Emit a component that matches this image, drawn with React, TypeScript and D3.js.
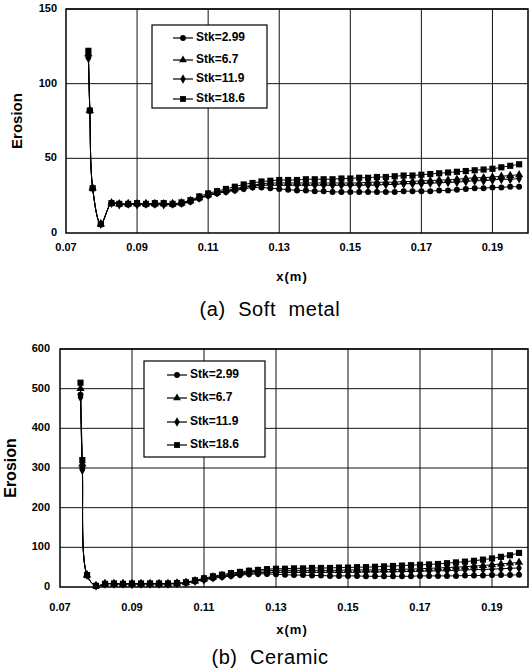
import React, { useEffect, useRef } from "react";
import * as d3 from "d3";

// shared x positions (m) of the tail points
const tailX = [
  0.085, 0.0875, 0.09, 0.0925, 0.095, 0.0975, 0.1, 0.1025, 0.105, 0.1075,
  0.11, 0.1125, 0.115, 0.1175, 0.12, 0.1225, 0.125, 0.1275, 0.13, 0.1325,
  0.135, 0.1375, 0.14, 0.1425, 0.145, 0.1475, 0.15, 0.1525, 0.155, 0.1575,
  0.16, 0.1625, 0.165, 0.1675, 0.17, 0.1725, 0.175, 0.1775, 0.18, 0.1825,
  0.185, 0.1875, 0.19, 0.1925, 0.195, 0.1975,
];

const seriesNames = ["Stk=2.99", "Stk=6.7", "Stk=11.9", "Stk=18.6"];
const seriesSymbols = [d3.symbolCircle, d3.symbolTriangle, d3.symbolDiamond, d3.symbolSquare];

// (a) soft metal
const softSpikeX = [0.0763, 0.0767, 0.0775, 0.0798, 0.0828];
const softSpike = [
  [118, 82, 30, 6, 20],
  [120, 82, 30, 6, 20],
  [117, 82, 30, 6, 20],
  [122, 82, 30, 6, 20],
];
const softTail = [
  [19.5, 19, 19.5, 19, 19, 19.5, 19, 19.5, 21, 23, 25, 26.5, 27.5, 28.5, 29.5, 30.5, 30.5, 30, 29.5, 29, 28.5, 28.5, 28, 28, 27.5, 27.5, 27.5, 27.5, 27.5, 27.5, 27.5, 27.5, 28, 28, 28, 28, 28.5, 28.5, 29, 29.5, 30, 30, 30.5, 30.5, 31, 31],
  [19.5, 19.5, 19.5, 19.5, 19.5, 19.5, 19.5, 20, 21.5, 23.5, 25.5, 27, 28.5, 29.5, 31, 32, 33, 33.5, 33.5, 33.5, 33.5, 33.5, 33.5, 33.5, 33.5, 33.5, 33.5, 33.5, 34, 34, 34, 34, 34.5, 34.5, 35, 35, 35.5, 35.5, 36, 36.5, 37, 37, 37.5, 38, 38.5, 39],
  [19, 19.5, 19, 19.5, 19.5, 19, 19.5, 20, 21.5, 23.5, 25.5, 27, 28, 29, 30.5, 31.5, 32, 32, 32, 32, 32, 32, 32, 32, 32, 32, 32, 32, 32, 32, 32.5, 32.5, 33, 33, 33, 33.5, 33.5, 34, 34, 34.5, 35, 35, 35.5, 36, 36, 36.5],
  [19.5, 19.5, 20, 19.5, 20, 20, 19.5, 20.5, 22, 24.5, 26.5, 28, 29.5, 31, 32.5, 33.5, 34.5, 35, 35.5, 35.5, 35.5, 36, 36, 36, 36, 36.5, 36.5, 37, 37, 37.5, 37.5, 38, 38.5, 38.5, 39, 39.5, 40, 40.5, 41, 41.5, 42, 42.5, 43, 44, 45, 46],
];

// (b) ceramic
const ceramicSpikeX = [0.0757, 0.0762, 0.0775, 0.08, 0.0825];
const ceramicSpike = [
  [485, 300, 30, 3, 8],
  [500, 310, 30, 3, 8],
  [478, 295, 30, 3, 8],
  [515, 320, 30, 3, 8],
];
const ceramicTail = [
  [8, 7, 8, 7, 8, 7, 8, 8, 10, 14, 18, 22, 25, 28, 30, 32, 33, 33, 32, 31, 30, 30, 29, 29, 28, 28, 28, 28, 27, 27, 27, 27, 27, 27, 28, 28, 28, 28, 28, 29, 29, 29, 30, 30, 30, 31],
  [8, 8, 8, 8, 8, 8, 8, 9, 11, 15, 20, 25, 29, 32, 35, 38, 40, 41, 42, 42, 42, 42, 42, 42, 42, 42, 43, 43, 43, 43, 44, 44, 45, 45, 46, 47, 48, 49, 50, 51, 53, 54, 56, 58, 60, 62],
  [8, 8, 7, 8, 8, 8, 8, 9, 11, 15, 19, 24, 27, 30, 33, 35, 36, 37, 37, 37, 37, 37, 37, 37, 37, 37, 37, 37, 38, 38, 38, 38, 39, 39, 40, 40, 41, 41, 42, 43, 44, 44, 45, 46, 47, 48],
  [9, 8, 9, 9, 9, 9, 9, 10, 12, 17, 22, 27, 31, 35, 38, 41, 43, 45, 46, 46, 47, 47, 48, 48, 48, 49, 49, 50, 50, 51, 52, 53, 54, 55, 56, 57, 58, 60, 62, 64, 66, 69, 72, 76, 80, 86],
];

const xTicks = [0.07, 0.09, 0.11, 0.13, 0.15, 0.17, 0.19];
const softYTicks = [0, 50, 100, 150];
const ceramicYTicks = [0, 100, 200, 300, 400, 500, 600];

const FONT = "'Liberation Sans', Arial, sans-serif";

const App = () => {
  const ref = useRef<SVGSVGElement>(null);

  useEffect(() => {
    const svg = d3.select(ref.current);
    svg.selectAll("*").remove();

    const panels = [
      {
        box: { left: 66, right: 528, top: 9, bottom: 233 },
        yMax: 150, yTicks: softYTicks, spikeX: softSpikeX, spike: softSpike, tail: softTail,
        tickGap: 9, xTickDy: 15, yLabel: { x: 18, size: 15 }, xLabelY: 278,
        caption: "(a)  Soft  metal", captionY: 311,
        legend: { x: 152, y: 25, w: 115, h: 83, rows: [38, 60, 79, 99], lineX: 21 },
      },
      {
        box: { left: 60, right: 528, top: 349, bottom: 587 },
        yMax: 600, yTicks: ceramicYTicks, spikeX: ceramicSpikeX, spike: ceramicSpike, tail: ceramicTail,
        tickGap: 10, xTickDy: 21, yLabel: { x: 12, size: 16 }, xLabelY: 631,
        caption: "(b)  Ceramic", captionY: 659,
        legend: { x: 144, y: 361, w: 121, h: 96, rows: [375, 398, 422, 445], lineX: 23 },
      },
    ];

    panels.forEach((p) => {
      const x = d3.scaleLinear().domain([0.07, 0.2]).range([p.box.left, p.box.right]);
      const y = d3.scaleLinear().domain([0, p.yMax]).range([p.box.bottom, p.box.top]);
      const g = svg.append("g");

      // grid
      g.selectAll(".vg").data(xTicks.slice(1)).enter().append("line")
        .attr("x1", (d) => x(d)).attr("x2", (d) => x(d))
        .attr("y1", p.box.top).attr("y2", p.box.bottom)
        .attr("stroke", "#111").attr("stroke-width", 1);
      g.selectAll(".hg").data(p.yTicks.slice(1)).enter().append("line")
        .attr("x1", p.box.left).attr("x2", p.box.right)
        .attr("y1", (d) => y(d)).attr("y2", (d) => y(d))
        .attr("stroke", "#111").attr("stroke-width", 1);
      g.append("rect")
        .attr("x", p.box.left).attr("y", p.box.top)
        .attr("width", p.box.right - p.box.left).attr("height", p.box.bottom - p.box.top)
        .attr("fill", "none").attr("stroke", "#000").attr("stroke-width", 1.5);

      // tick labels
      g.selectAll(".xt").data(xTicks).enter().append("text")
        .attr("x", (d) => x(d)).attr("y", p.box.bottom + p.xTickDy)
        .attr("text-anchor", "middle").attr("dominant-baseline", "middle")
        .attr("font-family", FONT).attr("font-weight", "bold").attr("font-size", 11)
        .text((d) => d3.format(".2f")(d));
      g.selectAll(".yt").data(p.yTicks).enter().append("text")
        .attr("x", p.box.left - p.tickGap).attr("y", (d) => y(d))
        .attr("text-anchor", "end").attr("dominant-baseline", "middle")
        .attr("font-family", FONT).attr("font-weight", "bold").attr("font-size", 11)
        .text((d) => d);

      // axis titles and caption
      const yMid = (p.box.top + p.box.bottom) / 2;
      g.append("text")
        .attr("transform", `translate(${p.yLabel.x},${yMid}) rotate(-90)`)
        .attr("text-anchor", "middle").attr("dominant-baseline", "middle")
        .attr("font-family", FONT).attr("font-weight", "bold").attr("font-size", p.yLabel.size)
        .text("Erosion");
      g.append("text")
        .attr("x", 292).attr("y", p.xLabelY)
        .attr("text-anchor", "middle").attr("dominant-baseline", "middle")
        .attr("font-family", FONT).attr("font-weight", "bold").attr("font-size", 13)
        .attr("letter-spacing", 1)
        .text("x(m)");
      g.append("text")
        .attr("x", 270).attr("y", p.captionY)
        .attr("text-anchor", "middle").attr("dominant-baseline", "middle")
        .attr("font-family", FONT).attr("font-size", 20)
        .attr("letter-spacing", 0.6)
        .style("white-space", "pre")
        .text(p.caption);

      // series
      const line = d3.line<[number, number]>()
        .x((d) => x(d[0])).y((d) => y(d[1]))
        .curve(d3.curveCatmullRom.alpha(0.5));
      seriesNames.forEach((name, i) => {
        const pts: [number, number][] = [
          ...p.spikeX.map((xv, j) => [xv, p.spike[i][j]] as [number, number]),
          ...tailX.map((xv, j) => [xv, p.tail[i][j]] as [number, number]),
        ];
        g.append("path").datum(pts).attr("d", line)
          .attr("fill", "none").attr("stroke", "#000").attr("stroke-width", 1);
        const sym = d3.symbol().type(seriesSymbols[i]).size(i === 3 ? 38 : i === 1 ? 30 : 28);
        g.selectAll(`.m${i}`).data(pts).enter().append("path")
          .attr("transform", (d) => `translate(${x(d[0])},${y(d[1])})`)
          .attr("d", sym()).attr("fill", "#000");
      });

      // legend
      const L = p.legend;
      g.append("rect").attr("x", L.x).attr("y", L.y).attr("width", L.w).attr("height", L.h)
        .attr("fill", "#fff").attr("stroke", "#000").attr("stroke-width", 1.2);
      seriesNames.forEach((name, i) => {
        const ly = L.rows[i];
        const x0 = L.x + L.lineX;
        g.append("line").attr("x1", x0).attr("x2", x0 + 20).attr("y1", ly).attr("y2", ly)
          .attr("stroke", "#000").attr("stroke-width", 1.2);
        const sym = d3.symbol().type(seriesSymbols[i]).size(i === 3 ? 34 : 26);
        g.append("path").attr("transform", `translate(${x0 + 10},${ly})`)
          .attr("d", sym()).attr("fill", "#000");
        g.append("text").attr("x", x0 + 23).attr("y", ly)
          .attr("dominant-baseline", "middle")
          .attr("font-family", FONT).attr("font-weight", "bold").attr("font-size", 12)
          .text(name);
      });
    });
  }, []);

  return (
    <svg
      ref={ref}
      width={529}
      height={672}
      style={{ position: "absolute", left: 0, top: 0, background: "#fff" }}
    />
  );
};

export default App;
